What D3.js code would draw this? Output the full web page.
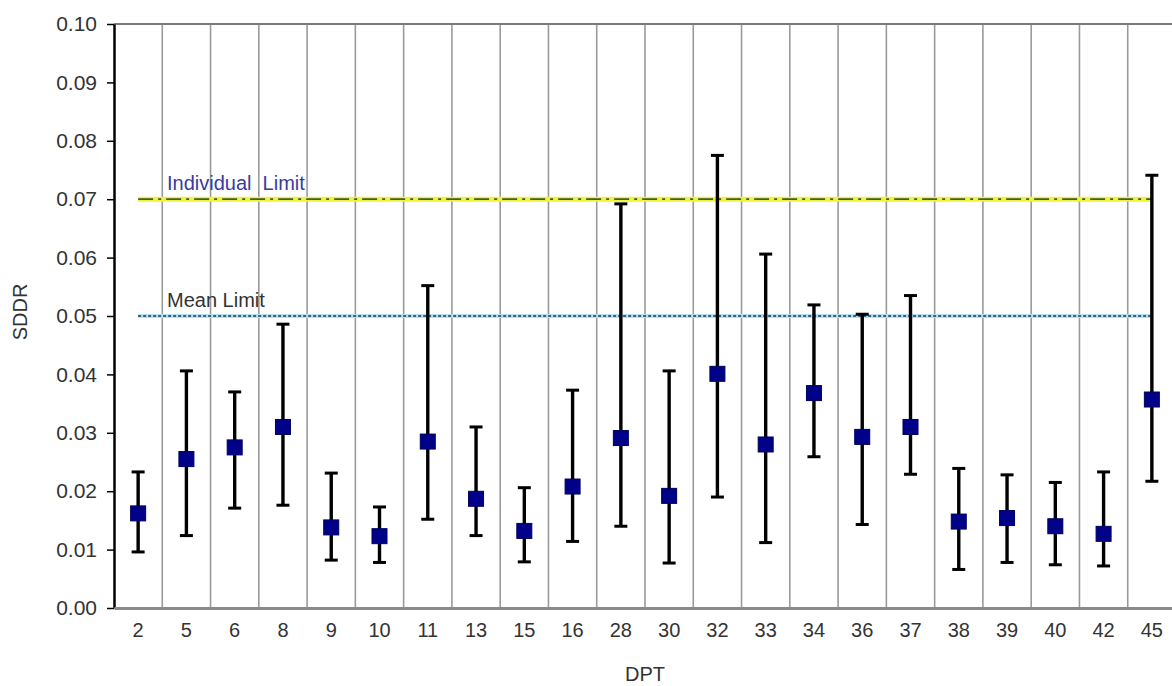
<!DOCTYPE html>
<html>
<head>
<meta charset="utf-8">
<script src="https://cdn.jsdelivr.net/npm/d3@7"></script>
<style>
  body { margin: 0; background: #fff; }
  text { font-family: "Liberation Sans", Arial, sans-serif; }
</style>
</head>
<body>
<div id="chart"></div>
<script>
// DPT categories and SDDR values
var dpt = ["2","5","6","8","9","10","11","13","15","16","28","30","32","33","34","36","37","38","39","40","42","45"];
var sddrMean = [0.0162,0.0255,0.0275,0.0310,0.0138,0.0123,0.0285,0.0187,0.0132,0.0208,0.0291,0.0192,0.0401,0.0280,0.0368,0.0293,0.0310,0.0148,0.0154,0.0140,0.0127,0.0357];
var sddrLow  = [0.0096,0.0124,0.0171,0.0176,0.0082,0.0078,0.0152,0.0124,0.0079,0.0114,0.0140,0.0077,0.0190,0.0112,0.0259,0.0143,0.0229,0.0066,0.0078,0.0074,0.0072,0.0217];
var sddrHigh = [0.0233,0.0406,0.0370,0.0486,0.0231,0.0173,0.0552,0.0310,0.0206,0.0373,0.0692,0.0406,0.0775,0.0606,0.0519,0.0503,0.0535,0.0239,0.0228,0.0215,0.0233,0.0741];
var yTicks = [0,0.01,0.02,0.03,0.04,0.05,0.06,0.07,0.08,0.09,0.10];
var individualLimit = 0.07;
var meanLimit = 0.05;

var width = 1172, height = 686;
var plotLeft = 114, plotRight = 1176, plotTop = 24, plotBottom = 608;

var svg = d3.select("#chart").append("svg")
    .attr("width", width)
    .attr("height", height);

var x = d3.scaleBand().domain(dpt).range([plotLeft, plotRight]).padding(0);
var y = d3.scaleLinear().domain([0, 0.1]).range([plotBottom, plotTop]);

// vertical separators between categories
svg.append("g")
    .selectAll("line")
    .data(dpt.slice(1))
    .enter()
    .append("line")
    .attr("x1", function(d){ return x(d); })
    .attr("x2", function(d){ return x(d); })
    .attr("y1", plotTop)
    .attr("y2", plotBottom)
    .style("stroke", "#9a9a9a")
    .style("stroke-width", 1.6);

// top border
svg.append("line")
    .attr("x1", plotLeft).attr("x2", plotRight)
    .attr("y1", plotTop).attr("y2", plotTop)
    .style("stroke", "#7a7a7a")
    .style("stroke-width", 2);

// limit lines
var xFirst = x(dpt[0]) + x.bandwidth() / 2;
var xLast = x(dpt[dpt.length - 1]) + x.bandwidth() / 2;

svg.append("line")
    .attr("x1", xFirst).attr("x2", xLast)
    .attr("y1", y(individualLimit)).attr("y2", y(individualLimit))
    .style("stroke", "#f2f23a")
    .style("stroke-width", 5);
svg.append("line")
    .attr("x1", xFirst).attr("x2", xLast)
    .attr("y1", y(individualLimit)).attr("y2", y(individualLimit))
    .style("stroke", "#3b5e3b")
    .style("stroke-width", 1.8)
    .style("stroke-dasharray", "15,5,3,5");

svg.append("line")
    .attr("x1", xFirst).attr("x2", xLast)
    .attr("y1", y(meanLimit)).attr("y2", y(meanLimit))
    .style("stroke", "#b5e3f2")
    .style("stroke-width", 4);
svg.append("line")
    .attr("x1", xFirst).attr("x2", xLast)
    .attr("y1", y(meanLimit)).attr("y2", y(meanLimit))
    .style("stroke", "#1c3550")
    .style("stroke-width", 1.4)
    .style("stroke-dasharray", "3,2");

svg.append("text")
    .attr("x", 167).attr("y", y(individualLimit) - 9)
    .style("font-size", "20px")
    .style("fill", "#3a3aa0")
    .style("white-space", "pre")
    .text("Individual  Limit");

svg.append("text")
    .attr("x", 167).attr("y", y(meanLimit) - 9)
    .style("font-size", "20px")
    .style("fill", "#333")
    .text("Mean Limit");

// error bars
var points = dpt.map(function(d, i){
    return {name: d, mean: sddrMean[i], low: sddrLow[i], high: sddrHigh[i]};
});
var cx = function(d){ return x(d.name) + x.bandwidth() / 2; };

var bars = svg.append("g").selectAll("g")
    .data(points)
    .enter()
    .append("g");

bars.append("line")
    .attr("x1", cx).attr("x2", cx)
    .attr("y1", function(d){ return y(d.low); })
    .attr("y2", function(d){ return y(d.high); })
    .style("stroke", "#000")
    .style("stroke-width", 3.4);
bars.append("line")
    .attr("x1", function(d){ return cx(d) - 6.5; })
    .attr("x2", function(d){ return cx(d) + 6.5; })
    .attr("y1", function(d){ return y(d.high); })
    .attr("y2", function(d){ return y(d.high); })
    .style("stroke", "#000")
    .style("stroke-width", 3);
bars.append("line")
    .attr("x1", function(d){ return cx(d) - 6.5; })
    .attr("x2", function(d){ return cx(d) + 6.5; })
    .attr("y1", function(d){ return y(d.low); })
    .attr("y2", function(d){ return y(d.low); })
    .style("stroke", "#000")
    .style("stroke-width", 3);
bars.append("rect")
    .attr("x", function(d){ return cx(d) - 7.5; })
    .attr("y", function(d){ return y(d.mean) - 7.5; })
    .attr("width", 15)
    .attr("height", 15)
    .style("fill", "#000088")
    .style("stroke", "#000060")
    .style("stroke-width", 1);

// axes
var yAxis = svg.append("g")
    .attr("transform", "translate(" + plotLeft + ",0)")
    .call(d3.axisLeft(y).tickValues(yTicks).tickFormat(d3.format(".2f")).tickSize(7).tickSizeOuter(0));
yAxis.select(".domain").style("stroke", "#000").style("stroke-width", 2.5);
yAxis.selectAll(".tick line").style("stroke", "#000").style("stroke-width", 1.5);
yAxis.selectAll(".tick text")
    .attr("x", -17)
    .style("font-size", "21px")
    .style("fill", "#333")
    .style("font-family", "'Liberation Sans', Arial, sans-serif");

var xAxis = svg.append("g")
    .attr("transform", "translate(0," + plotBottom + ")")
    .call(d3.axisBottom(x).tickSize(0).tickSizeOuter(0));
xAxis.select(".domain").style("stroke", "#8a8a8a").style("stroke-width", 3);
xAxis.selectAll(".tick text")
    .attr("y", 15)
    .style("font-size", "20px")
    .style("fill", "#333")
    .style("font-family", "'Liberation Sans', Arial, sans-serif");

svg.append("text")
    .attr("x", (plotLeft + plotRight) / 2)
    .attr("y", 681)
    .attr("text-anchor", "middle")
    .style("font-size", "20px")
    .style("fill", "#333")
    .text("DPT");

svg.append("text")
    .attr("transform", "translate(27," + 312 + ") rotate(-90)")
    .attr("text-anchor", "middle")
    .style("font-size", "20px")
    .style("fill", "#333")
    .text("SDDR");
</script>
</body>
</html>
